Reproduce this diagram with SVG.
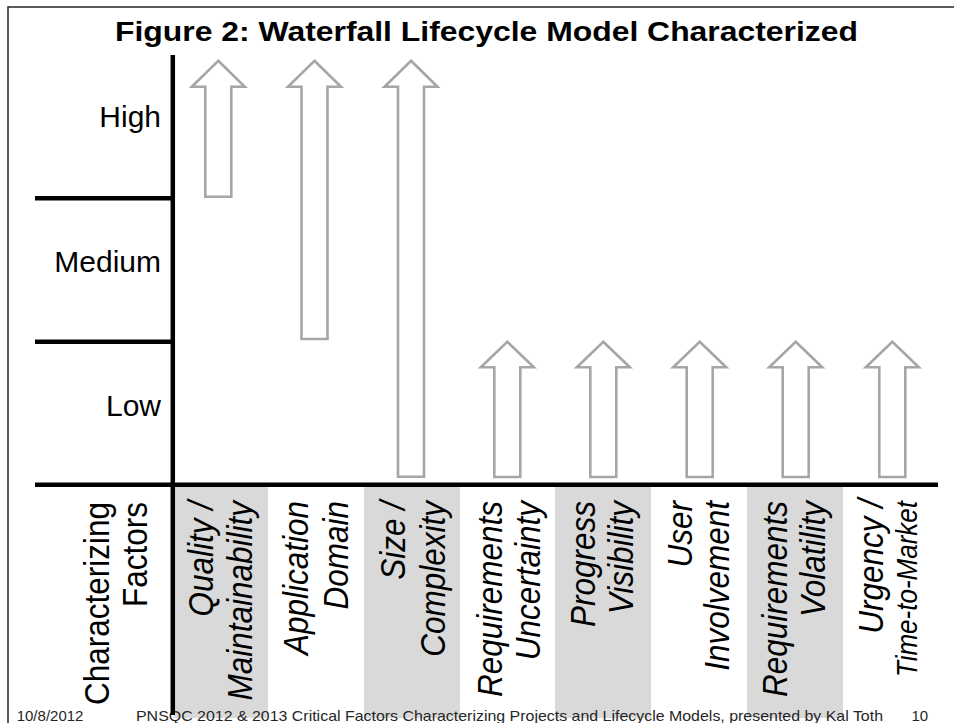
<svg xmlns="http://www.w3.org/2000/svg" width="954" height="723" viewBox="0 0 954 723">
  <style>
    .frame { stroke: #262626; stroke-width: 1.5; fill: none; }
    .axis { stroke: #000; stroke-width: 4.5; fill: none; }
    .band { fill: #d9d9d9; }
    .arrow { fill: none; stroke: #a6a6a6; stroke-width: 2.6; stroke-linejoin: miter; }
    .title { font-family: "Liberation Sans", Arial, sans-serif; font-weight: bold; font-size: 28.5px; fill: #000; }
    .level { font-family: "Liberation Sans", Arial, sans-serif; font-size: 30px; fill: #000; text-anchor: end; }
    .factor { font-family: "Liberation Sans", Arial, sans-serif; font-size: 31.5px; font-style: italic; fill: #000; text-anchor: end; }
    .head { font-family: "Liberation Sans", Arial, sans-serif; font-size: 31.5px; fill: #000; text-anchor: end; }
    .small { font-size: 26px; }
    .footer { font-family: "Liberation Sans", Arial, sans-serif; font-size: 15px; fill: #262626; }
  </style>

  <rect width="954" height="723" fill="#fff"/>

  <!-- slide frame -->
  <path class="frame" d="M8 723 V7 H954"/>

  <!-- title -->
  <text class="title" x="115" y="40.7" textLength="743" lengthAdjust="spacingAndGlyphs">Figure 2: Waterfall Lifecycle Model Characterized</text>

  <!-- shaded alternate factor columns -->
  <g id="bands">
    <rect class="band" x="174" y="487" width="94" height="231"/>
    <rect class="band" x="364" y="487" width="96" height="231"/>
    <rect class="band" x="555" y="487" width="96" height="231"/>
    <rect class="band" x="747" y="487" width="96" height="231"/>
  </g>

  <!-- footer -->
  <g id="footer">
    <text class="footer" x="16.7" y="721">10/8/2012</text>
    <text class="footer" x="136" y="721" textLength="747" lengthAdjust="spacingAndGlyphs">PNSQC 2012 &amp; 2013 Critical Factors Characterizing Projects and Lifecycle Models, presented by Kal Toth</text>
    <text class="footer" x="911.5" y="721">10</text>
  </g>

  <!-- axes and level dividers -->
  <g id="connectors">
    <line class="axis" x1="172.8" y1="55" x2="172.8" y2="715"/>
    <line class="axis" x1="35" y1="484.7" x2="938" y2="484.7"/>
    <line class="axis" x1="35" y1="198.3" x2="172.8" y2="198.3"/>
    <line class="axis" x1="35" y1="341.7" x2="172.8" y2="341.7"/>
  </g>

  <!-- level labels -->
  <g id="levels">
    <text class="level" x="161" y="127.3">High</text>
    <text class="level" x="161" y="272.3">Medium</text>
    <text class="level" x="161" y="416">Low</text>
  </g>

  <!-- row header -->
  <g id="factors-header">
    <text class="head" transform="translate(109,502) scale(1.1,1) rotate(-90)">Characterizing</text>
    <text class="head" transform="translate(147,502) scale(1.1,1) rotate(-90)">Factors</text>
  </g>

  <!-- factor: quality / maintainability (high) -->
  <g id="quality">
    <path class="arrow" d="M218.3 60.7 L244.8 86.7 H231.3 V196.7 H205.3 V86.7 H191.8 Z"/>
    <text class="factor" transform="translate(213,501) scale(1.1,1) rotate(-90)">Quality /</text>
    <text class="factor" transform="translate(252,501) scale(1.1,1) rotate(-90)">Maintainability</text>
  </g>

  <!-- factor: application domain (medium-high) -->
  <g id="application-domain">
    <path class="arrow" d="M314.5 60.7 L341 86.7 H327.5 V339 H301.5 V86.7 H288 Z"/>
    <text class="factor" transform="translate(308,501) scale(1.1,1) rotate(-90)">Application</text>
    <text class="factor" transform="translate(348,501) scale(1.1,1) rotate(-90)">Domain</text>
  </g>

  <!-- factor: size / complexity (full range) -->
  <g id="size-complexity">
    <path class="arrow" d="M411 60.7 L437.5 86.7 H424 V476.7 H398 V86.7 H384.5 Z"/>
    <text class="factor" transform="translate(405,501) scale(1.1,1) rotate(-90)">Size /</text>
    <text class="factor" transform="translate(445,501) scale(1.1,1) rotate(-90)">Complexity</text>
  </g>

  <!-- factor: requirements uncertainty (low) -->
  <g id="requirements-uncertainty">
    <path class="arrow" d="M507.3 341.7 L533.8 367.3 H520.3 V477 H494.3 V367.3 H480.8 Z"/>
    <text class="factor" transform="translate(501.7,501) scale(1.1,1) rotate(-90)">Requirements</text>
    <text class="factor" transform="translate(540,501) scale(1.1,1) rotate(-90)">Uncertainty</text>
  </g>

  <!-- factor: progress visibility (low) -->
  <g id="progress-visibility">
    <path class="arrow" d="M603.3 341.7 L629.8 367.3 H616.3 V477 H590.3 V367.3 H576.8 Z"/>
    <text class="factor" transform="translate(595,501) scale(1.1,1) rotate(-90)">Progress</text>
    <text class="factor" transform="translate(633,501) scale(1.1,1) rotate(-90)">Visibility</text>
  </g>

  <!-- factor: user involvement (low) -->
  <g id="user-involvement">
    <path class="arrow" d="M699.7 341.7 L726.2 367.3 H712.7 V477 H686.7 V367.3 H673.2 Z"/>
    <text class="factor" transform="translate(692,501) scale(1.1,1) rotate(-90)">User</text>
    <text class="factor" transform="translate(729,501) scale(1.1,1) rotate(-90)">Involvement</text>
  </g>

  <!-- factor: requirements volatility (low) -->
  <g id="requirements-volatility">
    <path class="arrow" d="M795.7 341.7 L822.2 367.3 H808.7 V477 H782.7 V367.3 H769.2 Z"/>
    <text class="factor" transform="translate(787,501) scale(1.1,1) rotate(-90)">Requirements</text>
    <text class="factor" transform="translate(825,501) scale(1.1,1) rotate(-90)">Volatility</text>
  </g>

  <!-- factor: urgency / time-to-market (low) -->
  <g id="urgency">
    <path class="arrow" d="M892.3 341.7 L918.8 367.3 H905.3 V477 H879.3 V367.3 H865.8 Z"/>
    <text class="factor" transform="translate(883,499) scale(1.1,1) rotate(-90)">Urgency /</text>
    <text class="factor small" transform="translate(917,501) scale(1.1,1) rotate(-90)">Time-to-Market</text>
  </g>
</svg>
